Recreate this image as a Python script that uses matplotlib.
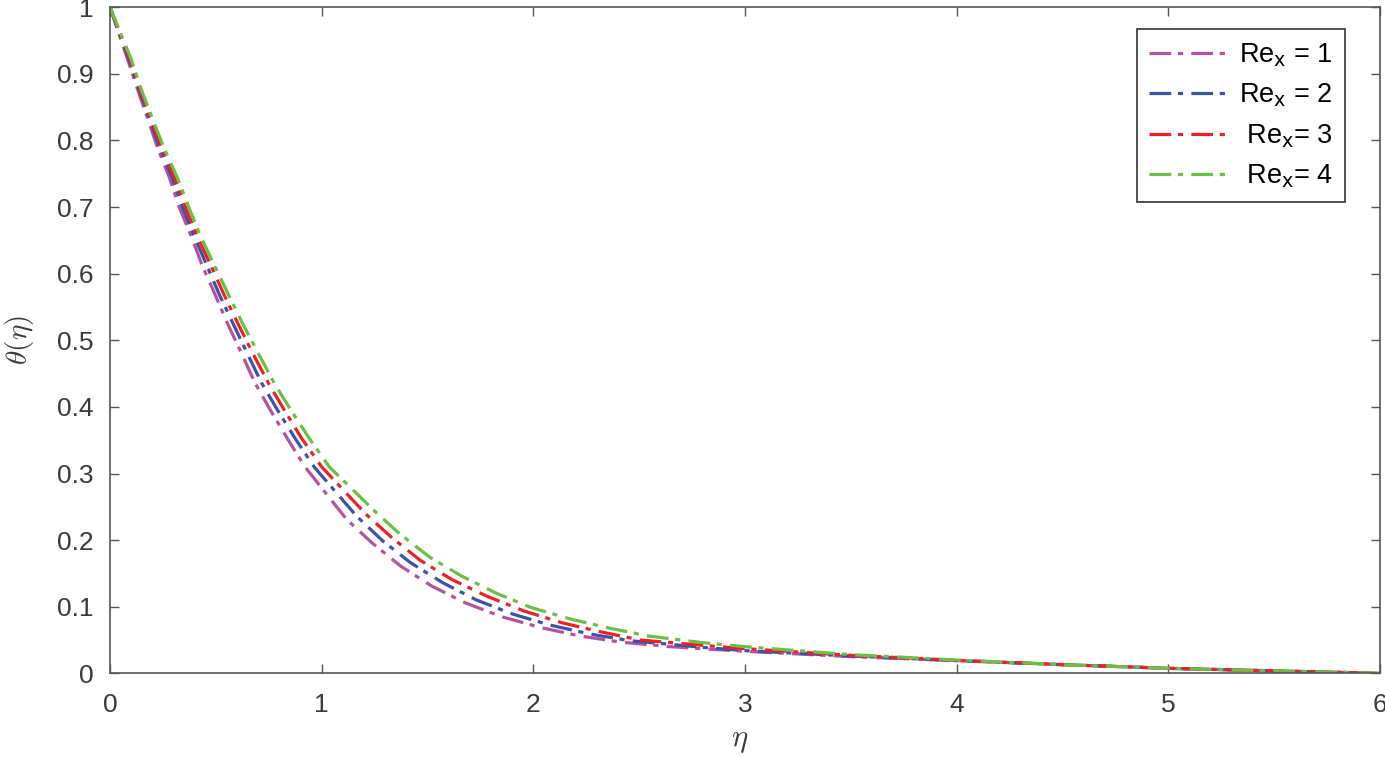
import matplotlib
matplotlib.use("Agg")
import matplotlib.pyplot as plt
from matplotlib.font_manager import FontProperties

# values (eta, theta) for each Re_x
eta_re1 = [0, 0.082, 0.129, 0.178, 0.225, 0.280, 0.327, 0.383, 0.436, 0.496, 0.554, 0.619,
           0.685, 0.756, 0.837, 0.921, 1.118, 1.241, 1.373, 1.520, 1.677, 1.850, 2.031,
           2.220, 2.409, 2.645, 3.0, 3.5, 4.0, 4.5, 5.0, 5.5, 6.0]
theta_re1 = [1, 0.923, 0.878, 0.833, 0.789, 0.745, 0.700, 0.657, 0.612, 0.569, 0.526, 0.482,
             0.436, 0.396, 0.353, 0.310, 0.231, 0.195, 0.161, 0.131, 0.106, 0.085, 0.069,
             0.056, 0.047, 0.040, 0.033, 0.025, 0.019, 0.013, 0.0075, 0.0037, 0]

eta_re2 = [0, 0.088, 0.135, 0.186, 0.235, 0.293, 0.342, 0.397, 0.458, 0.516, 0.580, 0.646,
           0.716, 0.790, 0.874, 0.964, 1.165, 1.288, 1.420, 1.572, 1.732, 1.902, 2.078,
           2.267, 2.456, 2.8, 3.0, 3.5, 4.0, 4.5, 5.0, 5.5, 6.0]
theta_re2 = [1, 0.923, 0.878, 0.833, 0.789, 0.745, 0.700, 0.657, 0.612, 0.569, 0.526, 0.482,
             0.436, 0.396, 0.353, 0.310, 0.236, 0.199, 0.166, 0.136, 0.110, 0.089, 0.0725,
             0.059, 0.049, 0.039, 0.034, 0.026, 0.019, 0.013, 0.0075, 0.0037, 0]

eta_re3 = [0, 0.093, 0.140, 0.192, 0.244, 0.304, 0.356, 0.411, 0.477, 0.538, 0.603, 0.672,
           0.748, 0.822, 0.905, 1.000, 1.209, 1.327, 1.464, 1.614, 1.779, 1.952, 2.134,
           2.315, 2.504, 2.8, 3.0, 3.5, 4.0, 4.5, 5.0, 5.5, 6.0]
theta_re3 = [1, 0.923, 0.878, 0.833, 0.789, 0.745, 0.700, 0.657, 0.612, 0.569, 0.526, 0.482,
             0.436, 0.396, 0.353, 0.310, 0.239, 0.205, 0.170, 0.141, 0.116, 0.094, 0.076,
             0.0625, 0.050, 0.042, 0.037, 0.027, 0.0195, 0.013, 0.0075, 0.0037, 0]

eta_re4 = [0, 0.099, 0.146, 0.200, 0.255, 0.317, 0.372, 0.427, 0.494, 0.559, 0.625, 0.698,
           0.775, 0.853, 0.941, 1.036, 1.252, 1.370, 1.512, 1.661, 1.827, 1.987, 2.181,
           2.362, 2.543, 2.8, 3.0, 3.5, 4.0, 4.5, 5.0, 5.5, 6.0]
theta_re4 = [1, 0.923, 0.878, 0.833, 0.789, 0.745, 0.700, 0.657, 0.612, 0.569, 0.526, 0.482,
             0.436, 0.396, 0.353, 0.310, 0.243, 0.209, 0.174, 0.146, 0.120, 0.099, 0.081,
             0.0676, 0.056, 0.046, 0.040, 0.028, 0.020, 0.013, 0.0075, 0.0037, 0]

labels = ['Re$_{\\mathrm{x}}$ = 1', 'Re$_{\\mathrm{x}}$ = 2', ' Re$_{\\mathrm{x}}$= 3', ' Re$_{\\mathrm{x}}$= 4']
colors = ['#B5529F', '#3A53A4', '#EE2024', '#6DBE45']
xticks = [0, 1, 2, 3, 4, 5, 6]
yticks = [0, 0.1, 0.2, 0.3, 0.4, 0.5, 0.6, 0.7, 0.8, 0.9, 1]

plt.rcParams['font.family'] = ['Liberation Sans', 'DejaVu Sans']
axcol = '#555555'
txtcol = '#3a3a3a'

fig = plt.figure(figsize=(13.85, 7.57), dpi=100)
ax = fig.add_axes([110/1385, 1 - 673.3/757, 1270/1385, 666/757])

series = [(eta_re1, theta_re1), (eta_re2, theta_re2), (eta_re3, theta_re3), (eta_re4, theta_re4)]
for (x, y), c, lab in zip(series, colors, labels):
    ax.plot(x, y, color=c, lw=2.3, linestyle=(0, (6.8, 2.1, 1.6, 2.6)), label=lab)

ax.set_xlim(0, 6)
ax.set_ylim(0, 1)
ax.set_xticks(xticks)
ax.set_yticks(yticks)
ax.set_xticklabels(['%g' % t for t in xticks])
ax.set_yticklabels(['%g' % t for t in yticks])
ax.tick_params(direction='in', length=6.5, width=1, color=axcol, labelcolor=txtcol,
               labelsize=19, top=True, right=True)
ax.tick_params(axis='x', pad=14)
ax.tick_params(axis='y', pad=12)
for s in ax.spines.values():
    s.set_color(axcol)
    s.set_linewidth(1.2)

ax.set_xlabel(r'$\eta$', fontsize=22, color=txtcol, math_fontfamily='cm')
ax.set_ylabel(r'$\theta(\eta)$', fontsize=21, color=txtcol, math_fontfamily='cm')
ax.xaxis.set_label_coords(0.496, -0.077)
ax.yaxis.set_label_coords(-0.058, 0.5)

prop = FontProperties(family='Liberation Sans', size=19.5, math_fontfamily='dejavusans')
leg = ax.legend(loc='upper right', bbox_to_anchor=(0.9724, 0.9674), borderaxespad=0,
                prop=prop, handlelength=2.8, handletextpad=0.5, labelspacing=0.48,
                fancybox=False, framealpha=1, borderpad=0.45)
leg.get_frame().set_edgecolor('#333333')
leg.get_frame().set_linewidth(1.2)

plt.savefig('out.png', dpi=100)
